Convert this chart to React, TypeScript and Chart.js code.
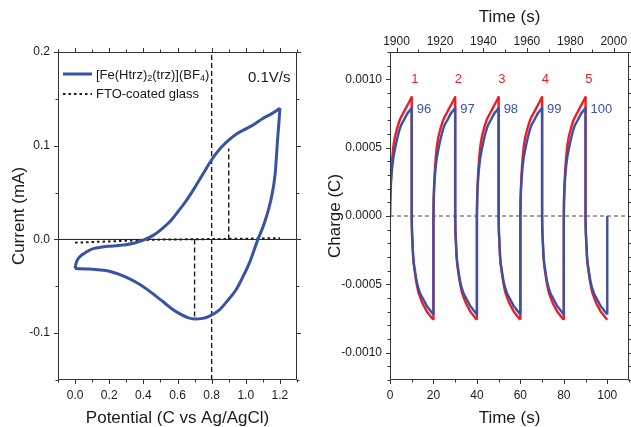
import React, { useEffect, useRef } from "react";
import { Chart, registerables } from "chart.js";

Chart.register(...registerables);

const FONT_FAMILY = "'Liberation Sans', Arial, Helvetica, sans-serif";
const BLUE = "#3a52a6";
const RED = "#ee1c24";
const INK = "#1a1a1a";
const FRAME_COLOR = "#333333";

// ---------- Left panel: cyclic voltammogram ----------
const CV_FORWARD_POTENTIAL = [0.0, 0.005, 0.013, 0.03, 0.053, 0.08, 0.111, 0.15, 0.19, 0.27, 0.35, 0.4, 0.46, 0.5, 0.55, 0.6, 0.65, 0.7, 0.75, 0.8, 0.85, 0.9, 0.95, 1.0, 1.05, 1.1, 1.15, 1.2];
const CV_FORWARD_CURRENT = [-0.031, -0.026, -0.022, -0.018, -0.015, -0.012, -0.0096, -0.0083, -0.0074, -0.0062, -0.0038, -0.0008, 0.0046, 0.01, 0.018, 0.029, 0.041, 0.055, 0.07, 0.085, 0.097, 0.106, 0.113, 0.118, 0.123, 0.129, 0.134, 0.14];
const CV_REVERSE_POTENTIAL = [1.2, 1.193, 1.186, 1.172, 1.147, 1.108, 1.069, 1.02, 0.98, 0.942, 0.89, 0.844, 0.785, 0.74, 0.7, 0.66, 0.62, 0.57, 0.52, 0.47, 0.42, 0.37, 0.32, 0.27, 0.22, 0.17, 0.12, 0.07, 0.0];
const CV_REVERSE_CURRENT = [0.14, 0.122, 0.106, 0.07, 0.042, 0.017, -0.001, -0.0256, -0.041, -0.054, -0.066, -0.0755, -0.082, -0.0845, -0.085, -0.0835, -0.08, -0.0745, -0.067, -0.06, -0.053, -0.047, -0.042, -0.038, -0.035, -0.033, -0.032, -0.0315, -0.031];
const FTO_POTENTIAL = [0.0, 0.1, 0.2, 0.3, 0.4, 0.5, 0.6, 0.7, 0.8, 0.9, 1.0, 1.1, 1.2];
const FTO_CURRENT = [-0.0035, -0.0028, -0.0021, -0.0014, -0.0006, -0.0002, 0.0, 0.0002, 0.0004, 0.0006, 0.0008, 0.0011, 0.0014];
const GUIDE_POTENTIAL = [0.8, 0.9, 0.7];
const GUIDE_START = [-0.15, 0.0, 0.0];
const GUIDE_END = [0.2, 0.097, -0.085];
const CV_X_TICKS = [0, 0.2, 0.4, 0.6, 0.8, 1.0, 1.2];
const CV_X_MINOR = [-0.1, 0.1, 0.3, 0.5, 0.7, 0.9, 1.1, 1.3];
const CV_Y_TICKS = [-0.1, 0, 0.1, 0.2];
const CV_Y_MINOR = [-0.15, -0.05, 0.05, 0.15];
const CV_LEGEND_MAIN = ["[Fe(Htrz)", "2", "(trz)](BF", "4", ")"];
const CV_LEGEND_REF = "FTO-coated glass";
const CV_SCAN_RATE = "0.1V/s";

// ---------- Right panel: charge vs time ----------
const STEP_TIME_OFFSETS = [0, 0.1, 0.3, 0.7, 1.5, 2.3, 3.1, 4, 5, 6, 7, 8, 9, 10];
const RED_CHARGE_RISE = [0, 0.00012, 0.00022, 0.00035, 0.0005, 0.00058, 0.00063, 0.00068, 0.00072, 0.00075, 0.00078, 0.00081, 0.00084, 0.00087];
const RED_CHARGE_FALL = [0, -0.0001, -0.00018, -0.00031, -0.00042, -0.0005, -0.00056, -0.0006, -0.00064, -0.00067, -0.0007, -0.00072, -0.00074, -0.00076];
const BLUE_CHARGE_RISE = [0, 0.0001, 0.00019, 0.0003, 0.00042, 0.00049, 0.00055, 0.00061, 0.00066, 0.00069, 0.00072, 0.00075, 0.00077, 0.00079];
const BLUE_CHARGE_FALL = [0, -0.0001, -0.00017, -0.0003, -0.0004, -0.00048, -0.00053, -0.00057, -0.0006, -0.00063, -0.00066, -0.00068, -0.0007, -0.00072];
const CYCLE_START_TIMES = [0, 20, 40, 60, 80];
const STEP_DURATION = 10;
const RED_CYCLE_LABELS = ["1", "2", "3", "4", "5"];
const BLUE_CYCLE_LABELS = ["96", "97", "98", "99", "100"];
const RED_LABEL_CHARGE = 0.001;
const BLUE_LABEL_CHARGE = 0.00078;
const TIME_TICKS = [0, 20, 40, 60, 80, 100];
const TIME_MINOR = [10, 30, 50, 70, 90, 110];
const TOP_TIME_TICKS = [1900, 1920, 1940, 1960, 1980, 2000];
const TOP_TIME_MINOR = [1910, 1930, 1950, 1970, 1990];
const CHARGE_TICKS = [-0.001, -0.0005, 0, 0.0005, 0.001];
const CHARGE_MINOR = [-0.0012, -0.0011, -0.0009, -0.0008, -0.0007, -0.0006, -0.0004, -0.0003, -0.0002, -0.0001, 0.0001, 0.0002, 0.0003, 0.0004, 0.0006, 0.0007, 0.0008, 0.0009, 0.0011, 0.0012];

type Pt = { x: number; y: number | null };
const zip = (xs: number[], ys: number[]): Pt[] => xs.map((x, i) => ({ x, y: ys[i] }));

// one dataset per potential step (smooth), plus one dataset of the vertical switching jumps
function buildChargeDatasets(rise: number[], fall: number[], closeAtEnd: boolean, color: string, order: number) {
  const sets: any[] = [];
  const jumps: Pt[] = [];
  const style = { borderColor: color, borderWidth: 2.4, order, cubicInterpolationMode: "monotone" };
  CYCLE_START_TIMES.forEach((s, k) => {
    const t1 = s + STEP_DURATION;
    const t2 = t1 + STEP_DURATION;
    sets.push({ ...style, data: STEP_TIME_OFFSETS.map((o, i) => ({ x: s + o, y: rise[i] })) });
    sets.push({ ...style, data: STEP_TIME_OFFSETS.map((o, i) => ({ x: t1 + o, y: fall[i] })) });
    jumps.push({ x: t1, y: rise[rise.length - 1] }, { x: t1, y: fall[0] }, { x: t1, y: null });
    const last = k === CYCLE_START_TIMES.length - 1;
    if (!last || closeAtEnd) {
      jumps.push({ x: t2, y: fall[fall.length - 1] }, { x: t2, y: rise[0] }, { x: t2, y: null });
    }
  });
  sets.push({ borderColor: color, borderWidth: 2.4, order, spanGaps: false, data: jumps });
  return sets;
}

const tickFont = { family: FONT_FAMILY, size: 12 };
const hiddenGrid = {
  display: true,
  drawOnChartArea: false,
  drawTicks: true,
  tickLength: 4,
  color: "rgba(0,0,0,0)",
};

type TickSide = { scaleId: string; major: number[]; minor: number[] };

function makeFramePlugin(sides: { bottom: TickSide; top: TickSide; left: TickSide; right: TickSide }) {
  const MAJOR = 4.5;
  const MINOR = 3;
  return {
    id: "frameTicks",
    afterDraw(chart: any) {
      const { ctx, chartArea: a } = chart;
      const L = Math.round(a.left) + 0.5;
      const R = Math.round(a.right) - 0.5;
      const T = Math.round(a.top) + 0.5;
      const B = Math.round(a.bottom) - 0.5;
      ctx.save();
      ctx.strokeStyle = FRAME_COLOR;
      ctx.lineWidth = 1;
      ctx.beginPath();
      ctx.rect(L, T, R - L, B - T);
      const horiz = (side: TickSide, y: number, dir: number) => {
        const s = chart.scales[side.scaleId];
        const put = (v: number, len: number) => {
          const x = Math.round(s.getPixelForValue(v)) + 0.5;
          ctx.moveTo(x, y);
          ctx.lineTo(x, y + dir * len);
        };
        side.major.forEach((v) => put(v, MAJOR));
        side.minor.forEach((v) => put(v, MINOR));
      };
      const vert = (side: TickSide, x: number, dir: number) => {
        const s = chart.scales[side.scaleId];
        const put = (v: number, len: number) => {
          const y = Math.round(s.getPixelForValue(v)) + 0.5;
          ctx.moveTo(x, y);
          ctx.lineTo(x + dir * len, y);
        };
        side.major.forEach((v) => put(v, MAJOR));
        side.minor.forEach((v) => put(v, MINOR));
      };
      horiz(sides.bottom, B, 1);
      horiz(sides.top, T, -1);
      vert(sides.left, L, -1);
      vert(sides.right, R, 1);
      ctx.stroke();
      ctx.restore();
    },
  };
}

function leftConfig(): any {
  const guideSets = GUIDE_POTENTIAL.map((v, i) => ({
    data: [
      { x: v, y: GUIDE_START[i] },
      { x: v, y: GUIDE_END[i] },
    ],
    borderColor: INK,
    borderWidth: 1.4,
    borderDash: [5, 3],
    order: 4,
  }));
  const textPlugin = {
    id: "cvText",
    afterDraw(chart: any) {
      const { ctx, chartArea: a } = chart;
      ctx.save();
      ctx.fillStyle = INK;
      ctx.textBaseline = "middle";
      ctx.textAlign = "center";
      ctx.font = `17px ${FONT_FAMILY}`;
      ctx.fillText("Potential (C vs Ag/AgCl)", (a.left + a.right) / 2, a.bottom + 38);
      ctx.save();
      ctx.translate(a.left - 39, (a.top + a.bottom) / 2);
      ctx.rotate(-Math.PI / 2);
      ctx.fillText("Current (mA)", 0, 0);
      ctx.restore();
      // scan rate
      ctx.textAlign = "left";
      ctx.font = `15px ${FONT_FAMILY}`;
      ctx.fillText(CV_SCAN_RATE, a.left + 190, a.top + 26);
      // legend
      const lx = a.left + 5;
      const y1 = a.top + 23;
      const y2 = a.top + 42;
      ctx.strokeStyle = BLUE;
      ctx.lineWidth = 3;
      ctx.beginPath();
      ctx.moveTo(lx, y1 - 1);
      ctx.lineTo(lx + 29, y1 - 1);
      ctx.stroke();
      ctx.strokeStyle = INK;
      ctx.lineWidth = 2;
      ctx.setLineDash([2.5, 3]);
      ctx.beginPath();
      ctx.moveTo(lx, y2);
      ctx.lineTo(lx + 29, y2);
      ctx.stroke();
      ctx.setLineDash([]);
      let tx = lx + 33;
      CV_LEGEND_MAIN.forEach((part, i) => {
        const sub = i % 2 === 1;
        ctx.font = sub ? `9px ${FONT_FAMILY}` : `13px ${FONT_FAMILY}`;
        ctx.fillText(part, tx, sub ? y1 + 4 : y1);
        tx += ctx.measureText(part).width;
      });
      ctx.font = `13px ${FONT_FAMILY}`;
      ctx.fillText(CV_LEGEND_REF, lx + 33, y2);
      ctx.restore();
    },
  };
  return {
    type: "scatter",
    data: {
      datasets: [
        {
          data: [
            { x: -0.1, y: 0 },
            { x: 1.3, y: 0 },
          ],
          borderColor: INK,
          borderWidth: 1,
          order: 5,
        },
        ...guideSets,
        {
          data: zip(FTO_POTENTIAL, FTO_CURRENT),
          borderColor: INK,
          borderWidth: 2,
          borderDash: [2.5, 3],
          order: 3,
        },
        {
          data: zip(CV_FORWARD_POTENTIAL, CV_FORWARD_CURRENT),
          borderColor: BLUE,
          borderWidth: 3,
          cubicInterpolationMode: "monotone",
          order: 1,
        },
        {
          data: zip(CV_REVERSE_POTENTIAL, CV_REVERSE_CURRENT),
          borderColor: BLUE,
          borderWidth: 3,
          cubicInterpolationMode: "monotone",
          order: 1,
        },
      ],
    },
    options: {
      animation: false,
      responsive: false,
      events: [],
      showLine: true,
      elements: { point: { radius: 0 }, line: { borderCapStyle: "butt", borderJoinStyle: "round" } },
      layout: { autoPadding: false, padding: { left: 8, right: 334, top: 52, bottom: 17 } },
      plugins: { legend: { display: false }, tooltip: { enabled: false } },
      scales: {
        x: {
          type: "linear",
          position: "bottom",
          min: -0.1,
          max: 1.3,
          grid: hiddenGrid,
          border: { display: false },
          afterBuildTicks: (s: any) => {
            s.ticks = CV_X_TICKS.map((v) => ({ value: v }));
          },
          afterFit: (s: any) => {
            s.height = 30;
          },
          ticks: {
            autoSkip: false,
            maxRotation: 0,
            padding: 4,
            color: INK,
            font: tickFont,
            callback: (v: any) => Number(v).toFixed(1),
          },
        },
        y: {
          type: "linear",
          position: "left",
          min: -0.15,
          max: 0.2,
          grid: hiddenGrid,
          border: { display: false },
          afterBuildTicks: (s: any) => {
            s.ticks = CV_Y_TICKS.map((v) => ({ value: v }));
          },
          afterFit: (s: any) => {
            s.width = 50;
          },
          ticks: {
            autoSkip: false,
            padding: 4,
            color: INK,
            font: tickFont,
            callback: (v: any) => Number(v).toFixed(1),
          },
        },
      },
    },
    plugins: [
      makeFramePlugin({
        bottom: { scaleId: "x", major: CV_X_TICKS, minor: CV_X_MINOR },
        top: { scaleId: "x", major: CV_X_TICKS, minor: CV_X_MINOR },
        left: { scaleId: "y", major: CV_Y_TICKS, minor: CV_Y_MINOR },
        right: { scaleId: "y", major: CV_Y_TICKS, minor: CV_Y_MINOR },
      }),
      textPlugin,
    ],
  };
}

function rightConfig(): any {
  const textPlugin = {
    id: "chargeText",
    afterDraw(chart: any) {
      const { ctx, chartArea: a, scales } = chart;
      ctx.save();
      ctx.fillStyle = INK;
      ctx.textBaseline = "middle";
      ctx.textAlign = "center";
      ctx.font = `17px ${FONT_FAMILY}`;
      const cx = (a.left + a.right) / 2;
      ctx.fillText("Time (s)", cx, a.bottom + 38);
      ctx.fillText("Time (s)", cx, a.top - 35);
      ctx.save();
      ctx.translate(a.left - 55, (a.top + a.bottom) / 2);
      ctx.rotate(-Math.PI / 2);
      ctx.fillText("Charge (C)", 0, 0);
      ctx.restore();
      ctx.font = `13px ${FONT_FAMILY}`;
      const peaks = CYCLE_START_TIMES.map((s) => s + STEP_DURATION);
      ctx.fillStyle = RED;
      peaks.forEach((p, i) => {
        ctx.fillText(RED_CYCLE_LABELS[i], scales.x.getPixelForValue(p + 1.5), scales.y.getPixelForValue(RED_LABEL_CHARGE));
      });
      ctx.fillStyle = BLUE;
      ctx.textAlign = "left";
      peaks.forEach((p, i) => {
        ctx.fillText(BLUE_CYCLE_LABELS[i], scales.x.getPixelForValue(p + 2.3), scales.y.getPixelForValue(BLUE_LABEL_CHARGE));
      });
      ctx.restore();
    },
  };
  return {
    type: "scatter",
    data: {
      datasets: [
        {
          data: [
            { x: 0, y: 0 },
            { x: 110, y: 0 },
          ],
          borderColor: "#444",
          borderWidth: 1,
          borderDash: [4, 3],
          order: 5,
        },
        ...buildChargeDatasets(RED_CHARGE_RISE, RED_CHARGE_FALL, false, RED, 2),
        ...buildChargeDatasets(BLUE_CHARGE_RISE, BLUE_CHARGE_FALL, true, BLUE, 1),
      ],
    },
    options: {
      animation: false,
      responsive: false,
      events: [],
      showLine: true,
      elements: { point: { radius: 0 }, line: { tension: 0, borderJoinStyle: "round" } },
      layout: { autoPadding: false, padding: { left: 340, right: 2, top: 22, bottom: 17 } },
      plugins: { legend: { display: false }, tooltip: { enabled: false } },
      scales: {
        x: {
          type: "linear",
          position: "bottom",
          min: 0,
          max: 110,
          grid: hiddenGrid,
          border: { display: false },
          afterBuildTicks: (s: any) => {
            s.ticks = TIME_TICKS.map((v) => ({ value: v }));
          },
          afterFit: (s: any) => {
            s.height = 30;
          },
          ticks: { autoSkip: false, maxRotation: 0, padding: 4, color: INK, font: tickFont, callback: (v: any) => String(v) },
        },
        x2: {
          type: "linear",
          axis: "x",
          position: "top",
          min: 1897,
          max: 2007,
          grid: { ...hiddenGrid, tickLength: 3 },
          border: { display: false },
          afterBuildTicks: (s: any) => {
            s.ticks = TOP_TIME_TICKS.map((v) => ({ value: v }));
          },
          afterFit: (s: any) => {
            s.height = 30;
          },
          ticks: { autoSkip: false, maxRotation: 0, padding: 0, color: INK, font: tickFont, callback: (v: any) => String(v) },
        },
        y: {
          type: "linear",
          position: "left",
          min: -0.0012,
          max: 0.0012,
          grid: hiddenGrid,
          border: { display: false },
          afterBuildTicks: (s: any) => {
            s.ticks = CHARGE_TICKS.map((v) => ({ value: v }));
          },
          afterFit: (s: any) => {
            s.width = 50;
          },
          ticks: {
            autoSkip: false,
            padding: 4,
            color: INK,
            font: tickFont,
            callback: (v: any) => Number(v).toFixed(4),
          },
        },
      },
    },
    plugins: [
      makeFramePlugin({
        bottom: { scaleId: "x", major: TIME_TICKS, minor: TIME_MINOR },
        top: { scaleId: "x2", major: TOP_TIME_TICKS, minor: TOP_TIME_MINOR },
        left: { scaleId: "y", major: CHARGE_TICKS, minor: CHARGE_MINOR },
        right: { scaleId: "y", major: CHARGE_TICKS, minor: CHARGE_MINOR },
      }),
      textPlugin,
    ],
  };
}

export default function App() {
  const leftRef = useRef<HTMLCanvasElement>(null);
  const rightRef = useRef<HTMLCanvasElement>(null);
  useEffect(() => {
    const c1 = new Chart(leftRef.current as HTMLCanvasElement, leftConfig());
    const c2 = new Chart(rightRef.current as HTMLCanvasElement, rightConfig());
    return () => {
      c1.destroy();
      c2.destroy();
    };
  }, []);
  const canvasStyle: React.CSSProperties = { position: "absolute", left: 0, top: 0, width: 631, height: 427 };
  return (
    <div style={{ position: "fixed", left: 0, top: 0, width: 631, height: 427, background: "#fff" }}>
      <canvas ref={leftRef} width={631} height={427} style={canvasStyle} />
      <canvas ref={rightRef} width={631} height={427} style={canvasStyle} />
    </div>
  );
}
